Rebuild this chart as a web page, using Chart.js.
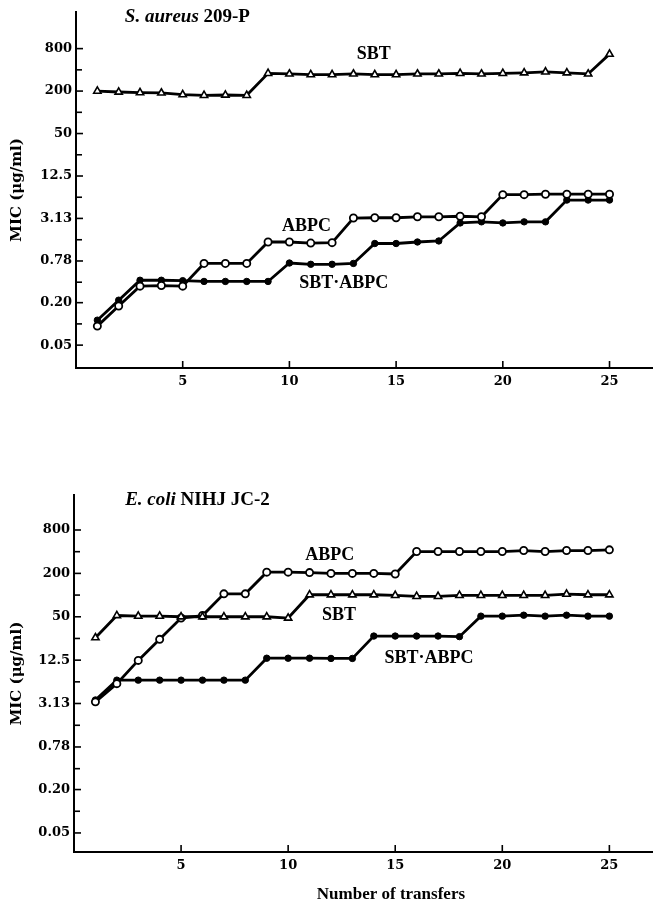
<!DOCTYPE html>
<html><head><meta charset="utf-8">
<script src="https://cdn.jsdelivr.net/npm/chart.js@4.4.1/dist/chart.umd.min.js"></script>
<style>
html,body{margin:0;padding:0;background:#fff;}
#wrap{position:relative;width:658px;height:906px;background:#fff;overflow:hidden;}
#c1{position:absolute;left:0;top:0;}
#c2{position:absolute;left:0;top:460px;}
</style></head><body>
<div id="wrap">
<canvas id="c1" width="658" height="400"></canvas>
<canvas id="c2" width="658" height="446"></canvas>
</div>
<script>
// ---- data ----
const transfers = [1,2,3,4,5,6,7,8,9,10,11,12,13,14,15,16,17,18,19,20,21,22,23,24,25];

const saureusSBT     = [200,194,190,188,178,174,176,174,357,350,342,342,350,342,342,350,350,357,350,357,363,374,363,350,668];
const saureusABPC    = [0.093,0.179,0.343,0.35,0.343,0.72,0.72,0.72,1.45,1.45,1.40,1.42,3.17,3.2,3.2,3.3,3.3,3.36,3.3,6.8,6.8,6.9,6.9,6.9,6.9];
const saureusSBTABPC = [0.113,0.217,0.416,0.416,0.41,0.40,0.40,0.40,0.40,0.73,0.70,0.70,0.72,1.38,1.38,1.45,1.5,2.7,2.8,2.7,2.8,2.8,5.7,5.7,5.7];

const ecoliSBT     = [25.6,52,51,51,50,50,50,50,50,48,101,101,101,101,99,96,96,99,99,99,99,99,103,101,101];
const ecoliABPC    = [3.3,5.9,12.4,24.3,48,52,104,104,208,208,205,200,200,200,196,402,402,402,402,402,415,402,415,415,424];
const ecoliSBTABPC = [3.5,6.6,6.6,6.6,6.6,6.6,6.6,6.6,13.3,13.3,13.3,13.2,13.2,27,27,27,27,26.5,51,51,52.6,51,52.6,51,51];

const yTickValues = [800,200,50,12.5,3.13,0.78,0.20,0.05];
const yTickLabels = ['800','200','50','12.5','3.13','0.78','0.20','0.05'];
const yMinorTicks = [400,100,25,6.25,1.56,0.39,0.10];
const xTickValues = [5,10,15,20,25];
const xTickLabels = ['5','10','15','20','25'];

const seriesNames = ['SBT','ABPC','SBT\u00B7ABPC'];

// ---- styling ----
const SERIF = "'Liberation Serif', 'Times New Roman', serif";
const TICKF = "'DejaVu Serif', serif";

function seriesSet(vals){
  const mk = (i, data) => ({x: transfers[i], y: data});
  return [
    {label: seriesNames[0], data: vals[0].map((v,i)=>mk(i,v)), borderColor:'#000', borderWidth:2.8,
     pointStyle:'triangle', pointRadius:4.2, pointBackgroundColor:'#fff', pointBorderColor:'#000', pointBorderWidth:1.6, tension:0},
    {label: seriesNames[1], data: vals[1].map((v,i)=>mk(i,v)), borderColor:'#000', borderWidth:2.8,
     pointStyle:'circle', pointRadius:3.6, pointBackgroundColor:'#fff', pointBorderColor:'#000', pointBorderWidth:1.8, tension:0},
    {label: seriesNames[2], data: vals[2].map((v,i)=>mk(i,v)), borderColor:'#000', borderWidth:2.8,
     pointStyle:'circle', pointRadius:3.2, pointBackgroundColor:'#000', pointBorderColor:'#000', pointBorderWidth:1, tension:0}
  ];
}

function decor(spec){
  return {
    id: 'decor' + spec.id,
    afterDraw(chart){
      const ctx = chart.ctx, xs = chart.scales.x, ys = chart.scales.y, a = chart.chartArea;
      ctx.save();
      ctx.strokeStyle = '#000'; ctx.lineWidth = 1.6;
      const seg = (x1,y1,x2,y2)=>{ctx.beginPath();ctx.moveTo(x1,y1);ctx.lineTo(x2,y2);ctx.stroke();};
      yTickValues.forEach(v=>{const p = ys.getPixelForValue(v); seg(a.left, p, a.left+7, p);});
      yMinorTicks.forEach(v=>{const p = ys.getPixelForValue(v); seg(a.left, p, a.left+6, p);});
      xTickValues.forEach(v=>{const p = xs.getPixelForValue(v); seg(p, a.bottom, p, a.bottom-7);});
      ctx.fillStyle = '#000';
      ctx.textBaseline = 'middle';
      ctx.textAlign = 'center';
      ctx.font = "bold 18px " + SERIF;
      spec.labels.forEach(l=>{
        ctx.fillText(l.text, xs.getPixelForValue(l.x), ys.getPixelForValue(l.y));
      });
      // title
      ctx.textAlign = 'left';
      let tx = xs.getPixelForValue(spec.title.x), ty = ys.getPixelForValue(spec.title.y);
      spec.title.parts.forEach(pt=>{
        ctx.font = pt.font;
        ctx.fillText(pt.text, tx, ty);
        tx += ctx.measureText(pt.text).width;
      });
      if (spec.xTitle){
        ctx.textAlign = 'center';
        ctx.font = "bold 17px " + SERIF;
        ctx.fillText(spec.xTitle.text, xs.getPixelForValue(spec.xTitle.x), a.bottom + spec.xTitle.dy);
      }
      ctx.restore();
    }
  };
}

function makeChart(canvasId, vals, yMin, yMax, yWidth, xHeight, padTop, spec){
  return new Chart(document.getElementById(canvasId), {
    type: 'line',
    data: { datasets: seriesSet(vals) },
    options: {
      responsive: false, animation: false, devicePixelRatio: 1,
      layout: { padding: { top: padTop, right: 3, left: 0, bottom: 0 } },
      plugins: { legend: { display: false }, tooltip: { enabled: false } },
      scales: {
        x: {
          type: 'linear', min: 0, max: 27, bounds: 'data',
          grid: { display: false, drawTicks: false },
          border: { display: true, color: '#000', width: 2 },
          afterBuildTicks: s => { s.ticks = xTickValues.map(v=>({value:v})); },
          afterFit: s => { s.height = xHeight; },
          ticks: { autoSkip: false, maxRotation: 0, padding: 6, color: '#000',
                   font: { family: TICKF, weight: 'bold', size: 13 },
                   callback: (v, i) => xTickLabels[i] }
        },
        y: {
          type: 'logarithmic', min: yMin, max: yMax, bounds: 'data',
          grid: { display: false, drawTicks: false },
          border: { display: true, color: '#000', width: 2 },
          afterBuildTicks: s => { s.ticks = yTickValues.map(v=>({value:v})); },
          afterFit: s => { s.width = yWidth; },
          ticks: { autoSkip: false, padding: 4, color: '#000',
                   font: { family: TICKF, weight: 'bold', size: 13 },
                   callback: (v, i) => yTickLabels[i] },
          title: { display: true, text: 'MIC (\u03BCg/ml)', color: '#000',
                   font: { family: TICKF, weight: 'bold', size: 15 }, padding: { top: 8, bottom: 0 } }
        }
      }
    },
    plugins: [decor(spec)]
  });
}

makeChart('c1', [saureusSBT, saureusABPC, saureusSBTABPC], 0.0237, 2661, 76, 32, 10, {
  id: 1,
  labels: [
    {text: 'SBT', x: 13.95, y: 658},
    {text: 'ABPC', x: 10.8, y: 2.39},
    {text: 'SBT\u00B7ABPC', x: 12.55, y: 0.376}
  ],
  title: { x: 2.29, y: 2264, parts: [
    {text: 'S. aureus ', font: "italic bold 19px " + SERIF},
    {text: '209-P', font: "bold 19px " + SERIF}
  ]}
});

makeChart('c2', [ecoliSBT, ecoliABPC, ecoliSBTABPC], 0.0272, 2448, 74, 54, 35, {
  id: 2,
  labels: [
    {text: 'ABPC', x: 11.94, y: 360},
    {text: 'SBT', x: 12.37, y: 52.8},
    {text: 'SBT\u00B7ABPC', x: 16.58, y: 13.4}
  ],
  title: { x: 2.39, y: 2087, parts: [
    {text: 'E. coli ', font: "italic bold 19px " + SERIF},
    {text: 'NIHJ JC-2', font: "bold 19px " + SERIF}
  ]},
  xTitle: { text: 'Number of transfers', x: 14.8, dy: 43 }
});
</script>
</body></html>
